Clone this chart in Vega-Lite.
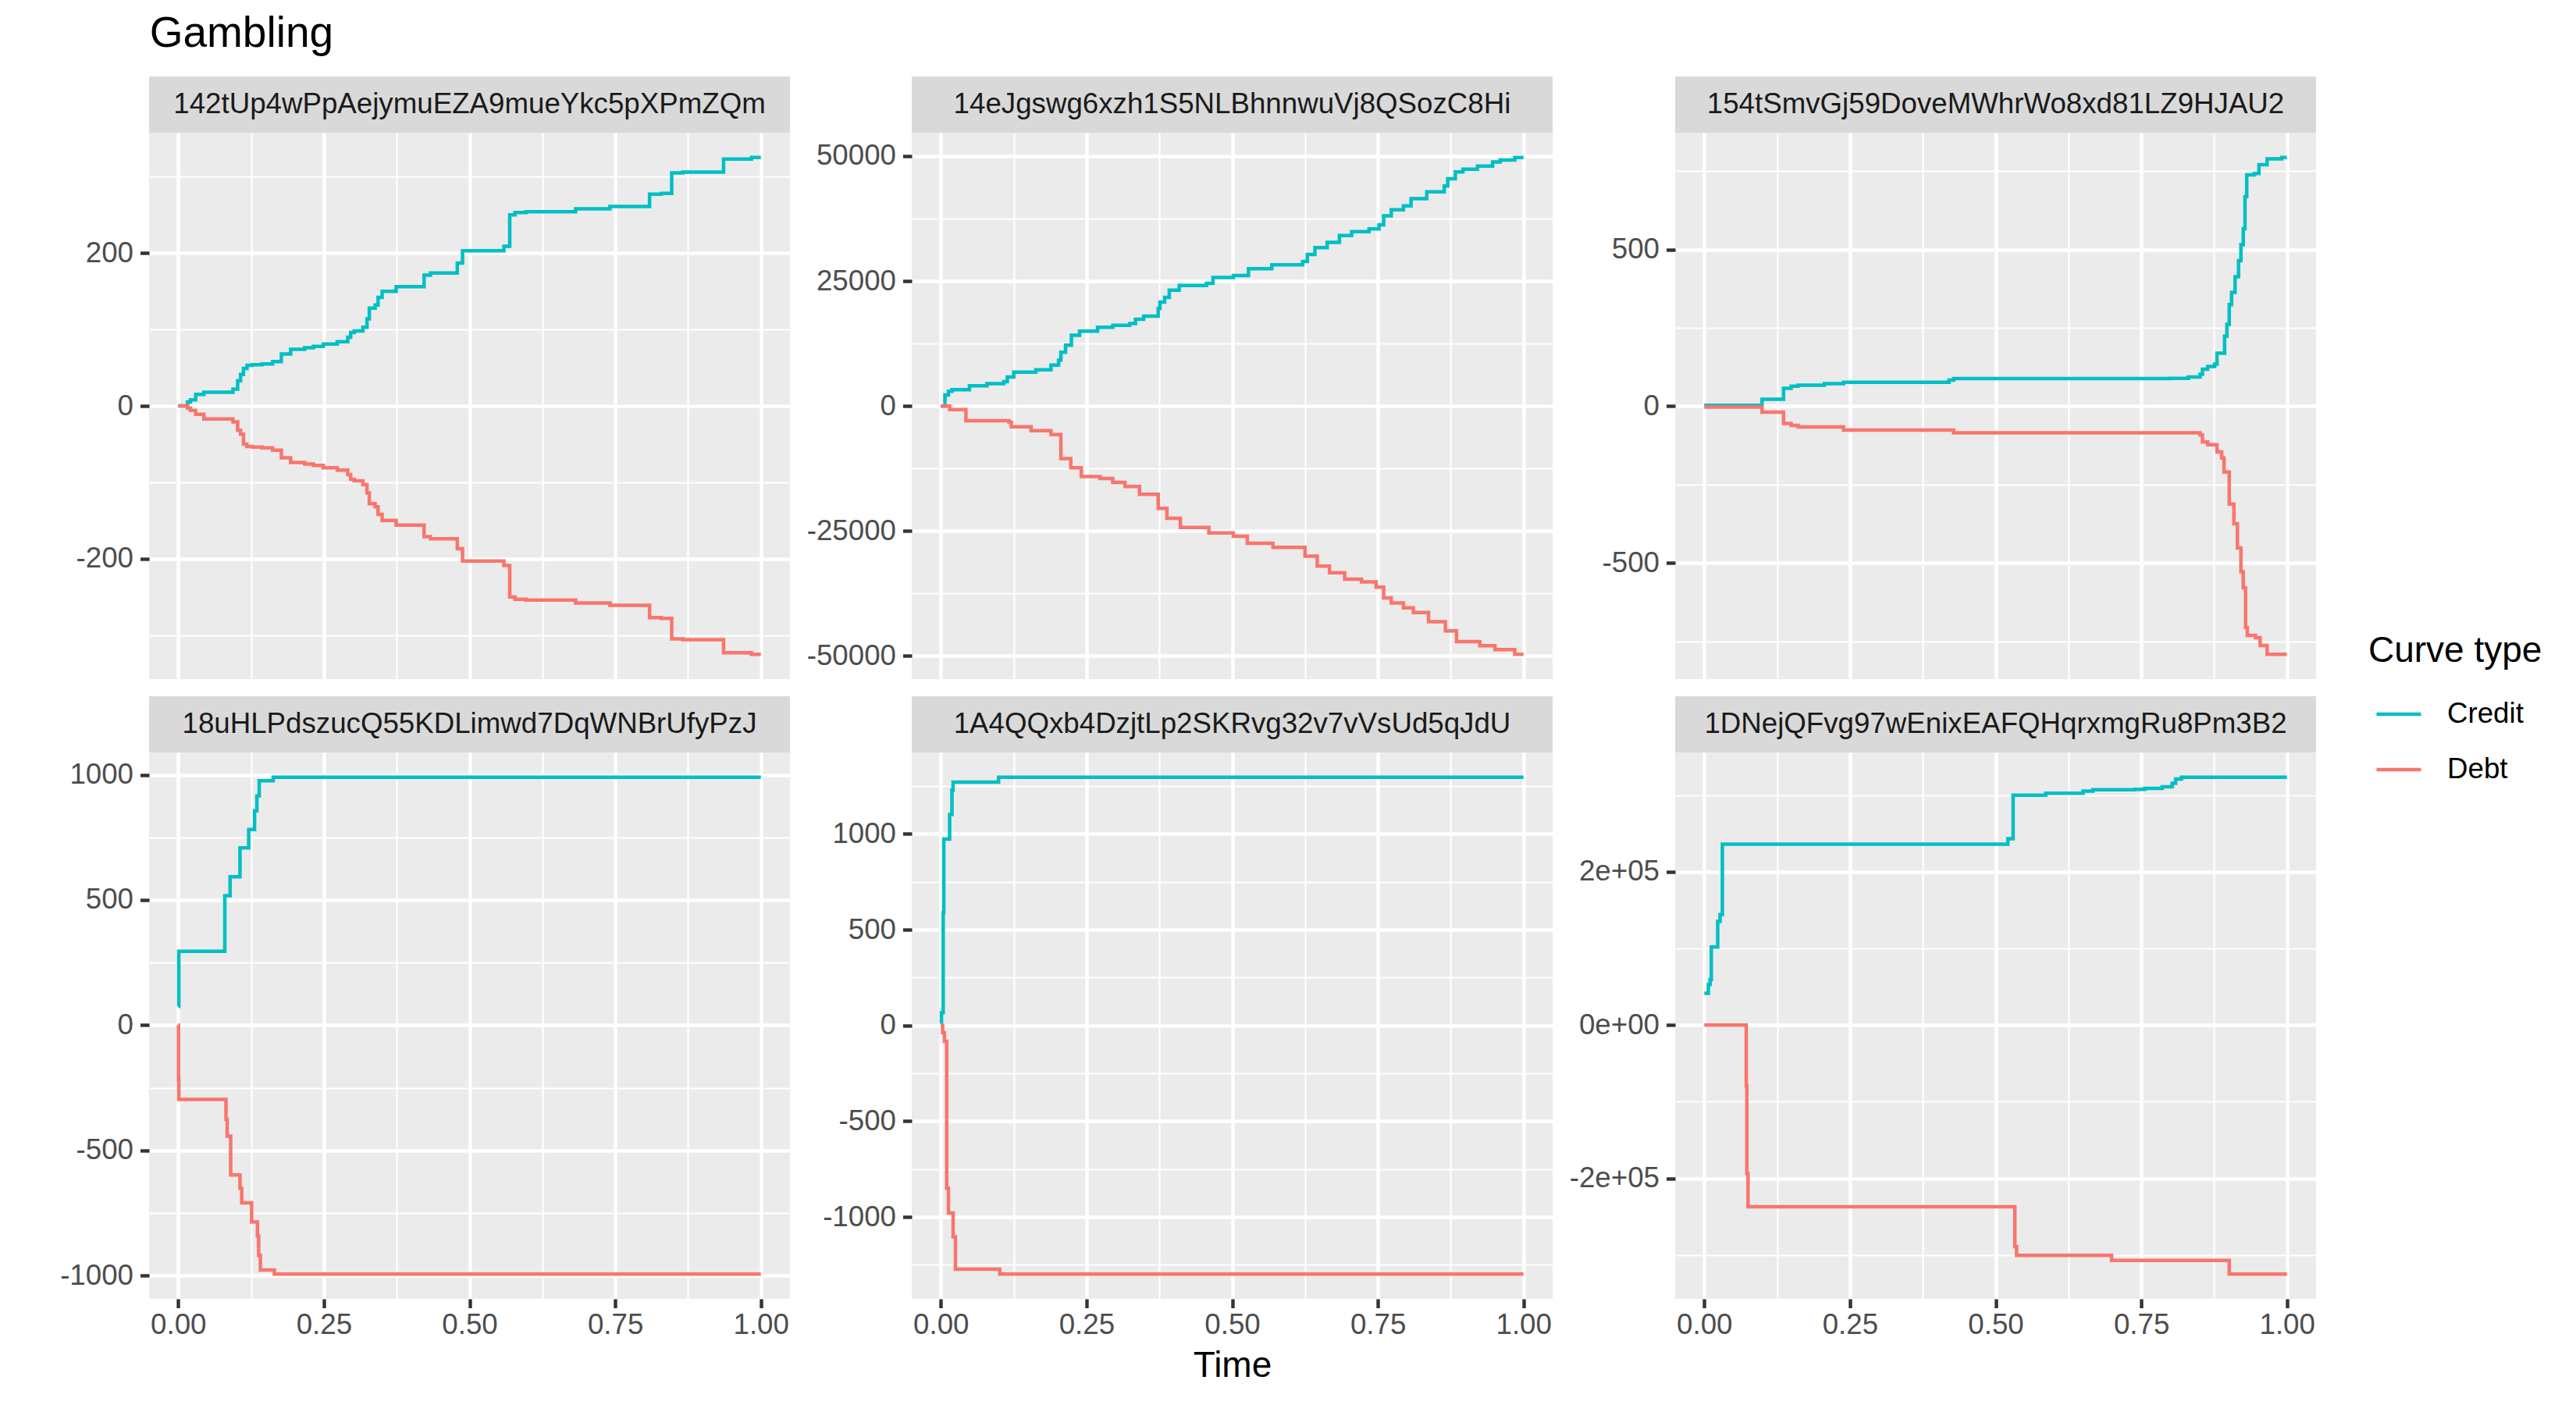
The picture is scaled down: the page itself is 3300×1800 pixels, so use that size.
{
  "$schema": "https://vega.github.io/schema/vega-lite/v6.json",
  "padding": {"left": 76, "top": 16, "right": 10, "bottom": 10},
  "title": {"text": "Gambling", "anchor": "start", "fontSize": 55, "fontWeight": "normal", "color": "#000000", "font": "Liberation Sans", "offset": 26, "dx": 115},
  "datasets": {
    "wallets": [
      {"wallet": "142tUp4wPpAejymuEZA9mueYkc5pXPmZQm"},
      {"wallet": "14eJgswg6xzh1S5NLBhnnwuVj8QSozC8Hi"},
      {"wallet": "154tSmvGj59DoveMWhrWo8xd81LZ9HJAU2"},
      {"wallet": "18uHLPdszucQ55KDLimwd7DqWNBrUfyPzJ"},
      {"wallet": "1A4QQxb4DzjtLp2SKRvg32v7vVsUd5qJdU"},
      {"wallet": "1DNejQFvg97wEnixEAFQHqrxmgRu8Pm3B2"}
    ],
    "flows_1": [
      {"time": 0, "value": 0, "curve": "Credit"},
      {"time": 0.016, "value": 5, "curve": "Credit"},
      {"time": 0.021, "value": 8, "curve": "Credit"},
      {"time": 0.03, "value": 15, "curve": "Credit"},
      {"time": 0.044, "value": 18, "curve": "Credit"},
      {"time": 0.094, "value": 22, "curve": "Credit"},
      {"time": 0.102, "value": 33, "curve": "Credit"},
      {"time": 0.107, "value": 41, "curve": "Credit"},
      {"time": 0.112, "value": 49, "curve": "Credit"},
      {"time": 0.118, "value": 53, "curve": "Credit"},
      {"time": 0.127, "value": 54, "curve": "Credit"},
      {"time": 0.144, "value": 55, "curve": "Credit"},
      {"time": 0.162, "value": 58, "curve": "Credit"},
      {"time": 0.177, "value": 68, "curve": "Credit"},
      {"time": 0.193, "value": 74, "curve": "Credit"},
      {"time": 0.217, "value": 76, "curve": "Credit"},
      {"time": 0.232, "value": 78, "curve": "Credit"},
      {"time": 0.249, "value": 81, "curve": "Credit"},
      {"time": 0.273, "value": 84, "curve": "Credit"},
      {"time": 0.291, "value": 90, "curve": "Credit"},
      {"time": 0.296, "value": 96, "curve": "Credit"},
      {"time": 0.302, "value": 98, "curve": "Credit"},
      {"time": 0.317, "value": 103, "curve": "Credit"},
      {"time": 0.324, "value": 114, "curve": "Credit"},
      {"time": 0.328, "value": 128, "curve": "Credit"},
      {"time": 0.338, "value": 132, "curve": "Credit"},
      {"time": 0.343, "value": 142, "curve": "Credit"},
      {"time": 0.35, "value": 150, "curve": "Credit"},
      {"time": 0.374, "value": 156, "curve": "Credit"},
      {"time": 0.422, "value": 171, "curve": "Credit"},
      {"time": 0.433, "value": 174, "curve": "Credit"},
      {"time": 0.479, "value": 187, "curve": "Credit"},
      {"time": 0.488, "value": 203, "curve": "Credit"},
      {"time": 0.559, "value": 209, "curve": "Credit"},
      {"time": 0.569, "value": 250, "curve": "Credit"},
      {"time": 0.578, "value": 253, "curve": "Credit"},
      {"time": 0.597, "value": 254, "curve": "Credit"},
      {"time": 0.682, "value": 258, "curve": "Credit"},
      {"time": 0.741, "value": 261, "curve": "Credit"},
      {"time": 0.809, "value": 277, "curve": "Credit"},
      {"time": 0.829, "value": 278, "curve": "Credit"},
      {"time": 0.847, "value": 305, "curve": "Credit"},
      {"time": 0.866, "value": 306, "curve": "Credit"},
      {"time": 0.936, "value": 323, "curve": "Credit"},
      {"time": 0.984, "value": 325, "curve": "Credit"},
      {"time": 1, "value": 325, "curve": "Credit"},
      {"time": 0, "value": 0, "curve": "Debt"},
      {"time": 0.016, "value": -3, "curve": "Debt"},
      {"time": 0.021, "value": -6, "curve": "Debt"},
      {"time": 0.03, "value": -11, "curve": "Debt"},
      {"time": 0.044, "value": -17, "curve": "Debt"},
      {"time": 0.094, "value": -21, "curve": "Debt"},
      {"time": 0.102, "value": -32, "curve": "Debt"},
      {"time": 0.107, "value": -37, "curve": "Debt"},
      {"time": 0.112, "value": -50, "curve": "Debt"},
      {"time": 0.118, "value": -53, "curve": "Debt"},
      {"time": 0.127, "value": -54, "curve": "Debt"},
      {"time": 0.144, "value": -55, "curve": "Debt"},
      {"time": 0.162, "value": -58, "curve": "Debt"},
      {"time": 0.177, "value": -68, "curve": "Debt"},
      {"time": 0.193, "value": -74, "curve": "Debt"},
      {"time": 0.217, "value": -76, "curve": "Debt"},
      {"time": 0.232, "value": -78, "curve": "Debt"},
      {"time": 0.249, "value": -81, "curve": "Debt"},
      {"time": 0.273, "value": -84, "curve": "Debt"},
      {"time": 0.291, "value": -90, "curve": "Debt"},
      {"time": 0.296, "value": -96, "curve": "Debt"},
      {"time": 0.302, "value": -98, "curve": "Debt"},
      {"time": 0.317, "value": -103, "curve": "Debt"},
      {"time": 0.324, "value": -114, "curve": "Debt"},
      {"time": 0.328, "value": -128, "curve": "Debt"},
      {"time": 0.338, "value": -132, "curve": "Debt"},
      {"time": 0.343, "value": -142, "curve": "Debt"},
      {"time": 0.35, "value": -150, "curve": "Debt"},
      {"time": 0.374, "value": -156, "curve": "Debt"},
      {"time": 0.422, "value": -171, "curve": "Debt"},
      {"time": 0.433, "value": -174, "curve": "Debt"},
      {"time": 0.479, "value": -187, "curve": "Debt"},
      {"time": 0.488, "value": -203, "curve": "Debt"},
      {"time": 0.559, "value": -209, "curve": "Debt"},
      {"time": 0.569, "value": -250, "curve": "Debt"},
      {"time": 0.578, "value": -253, "curve": "Debt"},
      {"time": 0.597, "value": -254, "curve": "Debt"},
      {"time": 0.682, "value": -258, "curve": "Debt"},
      {"time": 0.741, "value": -261, "curve": "Debt"},
      {"time": 0.809, "value": -277, "curve": "Debt"},
      {"time": 0.829, "value": -278, "curve": "Debt"},
      {"time": 0.847, "value": -305, "curve": "Debt"},
      {"time": 0.866, "value": -306, "curve": "Debt"},
      {"time": 0.936, "value": -323, "curve": "Debt"},
      {"time": 0.984, "value": -325, "curve": "Debt"},
      {"time": 1, "value": -325, "curve": "Debt"}
    ],
    "flows_2": [
      {"time": 0, "value": 0, "curve": "Credit"},
      {"time": 0.007, "value": 2230, "curve": "Credit"},
      {"time": 0.013, "value": 2950, "curve": "Credit"},
      {"time": 0.019, "value": 3260, "curve": "Credit"},
      {"time": 0.049, "value": 4060, "curve": "Credit"},
      {"time": 0.079, "value": 4460, "curve": "Credit"},
      {"time": 0.108, "value": 4860, "curve": "Credit"},
      {"time": 0.114, "value": 5810, "curve": "Credit"},
      {"time": 0.125, "value": 6770, "curve": "Credit"},
      {"time": 0.163, "value": 7250, "curve": "Credit"},
      {"time": 0.189, "value": 8200, "curve": "Credit"},
      {"time": 0.202, "value": 9160, "curve": "Credit"},
      {"time": 0.206, "value": 10750, "curve": "Credit"},
      {"time": 0.214, "value": 12180, "curve": "Credit"},
      {"time": 0.224, "value": 14170, "curve": "Credit"},
      {"time": 0.238, "value": 14970, "curve": "Credit"},
      {"time": 0.269, "value": 15760, "curve": "Credit"},
      {"time": 0.295, "value": 16160, "curve": "Credit"},
      {"time": 0.324, "value": 16480, "curve": "Credit"},
      {"time": 0.334, "value": 17360, "curve": "Credit"},
      {"time": 0.348, "value": 17990, "curve": "Credit"},
      {"time": 0.373, "value": 19510, "curve": "Credit"},
      {"time": 0.376, "value": 20780, "curve": "Credit"},
      {"time": 0.384, "value": 21740, "curve": "Credit"},
      {"time": 0.392, "value": 23170, "curve": "Credit"},
      {"time": 0.409, "value": 24120, "curve": "Credit"},
      {"time": 0.456, "value": 24520, "curve": "Credit"},
      {"time": 0.467, "value": 25720, "curve": "Credit"},
      {"time": 0.502, "value": 26110, "curve": "Credit"},
      {"time": 0.528, "value": 27470, "curve": "Credit"},
      {"time": 0.568, "value": 28260, "curve": "Credit"},
      {"time": 0.621, "value": 28900, "curve": "Credit"},
      {"time": 0.629, "value": 30330, "curve": "Credit"},
      {"time": 0.642, "value": 31690, "curve": "Credit"},
      {"time": 0.663, "value": 32720, "curve": "Credit"},
      {"time": 0.684, "value": 34080, "curve": "Credit"},
      {"time": 0.705, "value": 34870, "curve": "Credit"},
      {"time": 0.735, "value": 35430, "curve": "Credit"},
      {"time": 0.752, "value": 36230, "curve": "Credit"},
      {"time": 0.76, "value": 38060, "curve": "Credit"},
      {"time": 0.773, "value": 39250, "curve": "Credit"},
      {"time": 0.794, "value": 40050, "curve": "Credit"},
      {"time": 0.807, "value": 41480, "curve": "Credit"},
      {"time": 0.834, "value": 42830, "curve": "Credit"},
      {"time": 0.864, "value": 44030, "curve": "Credit"},
      {"time": 0.87, "value": 45460, "curve": "Credit"},
      {"time": 0.883, "value": 46820, "curve": "Credit"},
      {"time": 0.896, "value": 47370, "curve": "Credit"},
      {"time": 0.921, "value": 48010, "curve": "Credit"},
      {"time": 0.947, "value": 48800, "curve": "Credit"},
      {"time": 0.96, "value": 49200, "curve": "Credit"},
      {"time": 0.985, "value": 49700, "curve": "Credit"},
      {"time": 1, "value": 49700, "curve": "Credit"},
      {"time": 0, "value": 0, "curve": "Debt"},
      {"time": 0.015, "value": -720, "curve": "Debt"},
      {"time": 0.043, "value": -2950, "curve": "Debt"},
      {"time": 0.117, "value": -3260, "curve": "Debt"},
      {"time": 0.121, "value": -4140, "curve": "Debt"},
      {"time": 0.155, "value": -4940, "curve": "Debt"},
      {"time": 0.189, "value": -5730, "curve": "Debt"},
      {"time": 0.206, "value": -10500, "curve": "Debt"},
      {"time": 0.223, "value": -12340, "curve": "Debt"},
      {"time": 0.241, "value": -14090, "curve": "Debt"},
      {"time": 0.273, "value": -14490, "curve": "Debt"},
      {"time": 0.295, "value": -15290, "curve": "Debt"},
      {"time": 0.316, "value": -16080, "curve": "Debt"},
      {"time": 0.341, "value": -17670, "curve": "Debt"},
      {"time": 0.373, "value": -20460, "curve": "Debt"},
      {"time": 0.388, "value": -22450, "curve": "Debt"},
      {"time": 0.411, "value": -24280, "curve": "Debt"},
      {"time": 0.46, "value": -25400, "curve": "Debt"},
      {"time": 0.502, "value": -26040, "curve": "Debt"},
      {"time": 0.526, "value": -27470, "curve": "Debt"},
      {"time": 0.57, "value": -28260, "curve": "Debt"},
      {"time": 0.625, "value": -30010, "curve": "Debt"},
      {"time": 0.646, "value": -32000, "curve": "Debt"},
      {"time": 0.667, "value": -33360, "curve": "Debt"},
      {"time": 0.693, "value": -34630, "curve": "Debt"},
      {"time": 0.722, "value": -35190, "curve": "Debt"},
      {"time": 0.747, "value": -36230, "curve": "Debt"},
      {"time": 0.76, "value": -38380, "curve": "Debt"},
      {"time": 0.773, "value": -39410, "curve": "Debt"},
      {"time": 0.794, "value": -40370, "curve": "Debt"},
      {"time": 0.811, "value": -41320, "curve": "Debt"},
      {"time": 0.837, "value": -43150, "curve": "Debt"},
      {"time": 0.866, "value": -44980, "curve": "Debt"},
      {"time": 0.885, "value": -47130, "curve": "Debt"},
      {"time": 0.925, "value": -47930, "curve": "Debt"},
      {"time": 0.951, "value": -48730, "curve": "Debt"},
      {"time": 0.985, "value": -49650, "curve": "Debt"},
      {"time": 1, "value": -49650, "curve": "Debt"}
    ],
    "flows_3": [
      {"time": 0, "value": 3, "curve": "Credit"},
      {"time": 0.099, "value": 22, "curve": "Credit"},
      {"time": 0.136, "value": 57, "curve": "Credit"},
      {"time": 0.149, "value": 64, "curve": "Credit"},
      {"time": 0.161, "value": 67, "curve": "Credit"},
      {"time": 0.206, "value": 72, "curve": "Credit"},
      {"time": 0.239, "value": 76, "curve": "Credit"},
      {"time": 0.42, "value": 83, "curve": "Credit"},
      {"time": 0.428, "value": 88, "curve": "Credit"},
      {"time": 0.798, "value": 89, "curve": "Credit"},
      {"time": 0.831, "value": 93, "curve": "Credit"},
      {"time": 0.851, "value": 102, "curve": "Credit"},
      {"time": 0.855, "value": 118, "curve": "Credit"},
      {"time": 0.864, "value": 127, "curve": "Credit"},
      {"time": 0.876, "value": 134, "curve": "Credit"},
      {"time": 0.88, "value": 169, "curve": "Credit"},
      {"time": 0.893, "value": 223, "curve": "Credit"},
      {"time": 0.897, "value": 261, "curve": "Credit"},
      {"time": 0.901, "value": 324, "curve": "Credit"},
      {"time": 0.905, "value": 363, "curve": "Credit"},
      {"time": 0.911, "value": 413, "curve": "Credit"},
      {"time": 0.917, "value": 464, "curve": "Credit"},
      {"time": 0.921, "value": 515, "curve": "Credit"},
      {"time": 0.925, "value": 566, "curve": "Credit"},
      {"time": 0.928, "value": 668, "curve": "Credit"},
      {"time": 0.931, "value": 738, "curve": "Credit"},
      {"time": 0.944, "value": 742, "curve": "Credit"},
      {"time": 0.952, "value": 770, "curve": "Credit"},
      {"time": 0.966, "value": 789, "curve": "Credit"},
      {"time": 0.991, "value": 793, "curve": "Credit"},
      {"time": 1, "value": 793, "curve": "Credit"},
      {"time": 0, "value": -3, "curve": "Debt"},
      {"time": 0.099, "value": -19, "curve": "Debt"},
      {"time": 0.136, "value": -55, "curve": "Debt"},
      {"time": 0.149, "value": -61, "curve": "Debt"},
      {"time": 0.161, "value": -66, "curve": "Debt"},
      {"time": 0.239, "value": -76, "curve": "Debt"},
      {"time": 0.428, "value": -85, "curve": "Debt"},
      {"time": 0.851, "value": -92, "curve": "Debt"},
      {"time": 0.855, "value": -114, "curve": "Debt"},
      {"time": 0.864, "value": -123, "curve": "Debt"},
      {"time": 0.88, "value": -146, "curve": "Debt"},
      {"time": 0.888, "value": -165, "curve": "Debt"},
      {"time": 0.892, "value": -210, "curve": "Debt"},
      {"time": 0.901, "value": -312, "curve": "Debt"},
      {"time": 0.909, "value": -375, "curve": "Debt"},
      {"time": 0.915, "value": -452, "curve": "Debt"},
      {"time": 0.921, "value": -528, "curve": "Debt"},
      {"time": 0.925, "value": -579, "curve": "Debt"},
      {"time": 0.929, "value": -706, "curve": "Debt"},
      {"time": 0.932, "value": -731, "curve": "Debt"},
      {"time": 0.946, "value": -738, "curve": "Debt"},
      {"time": 0.954, "value": -763, "curve": "Debt"},
      {"time": 0.966, "value": -791, "curve": "Debt"},
      {"time": 1, "value": -791, "curve": "Debt"}
    ],
    "flows_4": [
      {"time": 0, "value": 75, "curve": "Credit"},
      {"time": 0.001, "value": 295, "curve": "Credit"},
      {"time": 0.08, "value": 517, "curve": "Credit"},
      {"time": 0.089, "value": 593, "curve": "Credit"},
      {"time": 0.106, "value": 708, "curve": "Credit"},
      {"time": 0.121, "value": 781, "curve": "Credit"},
      {"time": 0.131, "value": 856, "curve": "Credit"},
      {"time": 0.135, "value": 915, "curve": "Credit"},
      {"time": 0.139, "value": 976, "curve": "Credit"},
      {"time": 0.163, "value": 990, "curve": "Credit"},
      {"time": 1, "value": 990, "curve": "Credit"},
      {"time": 0, "value": 0, "curve": "Debt"},
      {"time": 0.0005, "value": -220, "curve": "Debt"},
      {"time": 0.001, "value": -297, "curve": "Debt"},
      {"time": 0.082, "value": -376, "curve": "Debt"},
      {"time": 0.084, "value": -443, "curve": "Debt"},
      {"time": 0.09, "value": -598, "curve": "Debt"},
      {"time": 0.106, "value": -651, "curve": "Debt"},
      {"time": 0.109, "value": -710, "curve": "Debt"},
      {"time": 0.126, "value": -786, "curve": "Debt"},
      {"time": 0.136, "value": -842, "curve": "Debt"},
      {"time": 0.138, "value": -919, "curve": "Debt"},
      {"time": 0.141, "value": -978, "curve": "Debt"},
      {"time": 0.165, "value": -994, "curve": "Debt"},
      {"time": 1, "value": -994, "curve": "Debt"}
    ],
    "flows_5": [
      {"time": 0, "value": 10, "curve": "Credit"},
      {"time": 0.001, "value": 67, "curve": "Credit"},
      {"time": 0.004, "value": 590, "curve": "Credit"},
      {"time": 0.005, "value": 973, "curve": "Credit"},
      {"time": 0.015, "value": 1102, "curve": "Credit"},
      {"time": 0.019, "value": 1229, "curve": "Credit"},
      {"time": 0.021, "value": 1271, "curve": "Credit"},
      {"time": 0.099, "value": 1296, "curve": "Credit"},
      {"time": 1, "value": 1296, "curve": "Credit"},
      {"time": 0, "value": 0, "curve": "Debt"},
      {"time": 0.003, "value": -38, "curve": "Debt"},
      {"time": 0.006, "value": -83, "curve": "Debt"},
      {"time": 0.01, "value": -850, "curve": "Debt"},
      {"time": 0.013, "value": -979, "curve": "Debt"},
      {"time": 0.021, "value": -1104, "curve": "Debt"},
      {"time": 0.025, "value": -1273, "curve": "Debt"},
      {"time": 0.101, "value": -1298, "curve": "Debt"},
      {"time": 1, "value": -1298, "curve": "Debt"}
    ],
    "flows_6": [
      {"time": 0, "value": 41560, "curve": "Credit"},
      {"time": 0.007, "value": 53000, "curve": "Credit"},
      {"time": 0.01, "value": 59200, "curve": "Credit"},
      {"time": 0.012, "value": 101800, "curve": "Credit"},
      {"time": 0.023, "value": 135000, "curve": "Credit"},
      {"time": 0.027, "value": 144000, "curve": "Credit"},
      {"time": 0.031, "value": 235900, "curve": "Credit"},
      {"time": 0.521, "value": 243100, "curve": "Credit"},
      {"time": 0.53, "value": 299700, "curve": "Credit"},
      {"time": 0.586, "value": 302300, "curve": "Credit"},
      {"time": 0.65, "value": 305000, "curve": "Credit"},
      {"time": 0.667, "value": 307000, "curve": "Credit"},
      {"time": 0.739, "value": 307500, "curve": "Credit"},
      {"time": 0.756, "value": 308600, "curve": "Credit"},
      {"time": 0.786, "value": 310700, "curve": "Credit"},
      {"time": 0.803, "value": 315300, "curve": "Credit"},
      {"time": 0.809, "value": 321000, "curve": "Credit"},
      {"time": 0.819, "value": 323100, "curve": "Credit"},
      {"time": 1, "value": 323100, "curve": "Credit"},
      {"time": 0, "value": 0, "curve": "Debt"},
      {"time": 0.072, "value": -79500, "curve": "Debt"},
      {"time": 0.073, "value": -193800, "curve": "Debt"},
      {"time": 0.075, "value": -236900, "curve": "Debt"},
      {"time": 0.533, "value": -288800, "curve": "Debt"},
      {"time": 0.536, "value": -300300, "curve": "Debt"},
      {"time": 0.699, "value": -307000, "curve": "Debt"},
      {"time": 0.901, "value": -324700, "curve": "Debt"},
      {"time": 1, "value": -324700, "curve": "Debt"}
    ]
  },
  "columns": 3,
  "spacing": {"row": 22, "column": 21},
  "concat": [
    {
      "spacing": 0,
      "vconcat": [
        {
          "width": 821, "height": 72,
          "view": {"fill": "#D9D9D9", "stroke": null},
          "data": {"name": "wallets"},
          "transform": [{"filter": {"field": "wallet", "equal": "142tUp4wPpAejymuEZA9mueYkc5pXPmZQm"}}],
          "mark": {"type": "text", "fontSize": 36.7, "color": "#1A1A1A"},
          "encoding": {"text": {"field": "wallet", "type": "nominal"}}
        },
        {
          "width": 821, "height": 700,
          "data": {"name": "flows_1"},
          "mark": {"type": "line", "interpolate": "step-after", "strokeWidth": 4.5},
          "encoding": {
            "x": {"field": "time", "type": "quantitative", "scale": {"domain": [-0.05, 1.05], "nice": false, "zero": false},
              "axis": {"values": [0, 0.125, 0.25, 0.375, 0.5, 0.625, 0.75, 0.875, 1], "labels": false, "ticks": false, "title": null,
                "gridWidth": {"condition": {"test": "(datum.value*4)%1===0", "value": 4.4}, "value": 2.2}}},
            "y": {"field": "value", "type": "quantitative", "scale": {"domain": [-357.5, 357.5], "nice": false, "zero": false},
              "axis": {"values": [-300, -200, -100, 0, 100, 200, 300], "title": null,
                "gridWidth": {"condition": {"test": "datum.value%200===0", "value": 4.4}, "value": 2.2},
                "tickOpacity": {"condition": {"test": "datum.value%200===0", "value": 1}, "value": 0},
                "labelExpr": "datum.value%200===0 ? replace(format(datum.value,'d'),'\u2212','-') : ''"}},
            "color": {"field": "curve", "type": "nominal", "title": "Curve type",
              "scale": {"domain": ["Credit", "Debt"], "range": ["#00BFC4", "#F8766D"]},
              "legend": {"orient": "none", "legendX": 2843, "legendY": 714}}
          }
        }
      ]
    },
    {
      "spacing": 0,
      "vconcat": [
        {
          "width": 821, "height": 72,
          "view": {"fill": "#D9D9D9", "stroke": null},
          "data": {"name": "wallets"},
          "transform": [{"filter": {"field": "wallet", "equal": "14eJgswg6xzh1S5NLBhnnwuVj8QSozC8Hi"}}],
          "mark": {"type": "text", "fontSize": 36.7, "color": "#1A1A1A"},
          "encoding": {"text": {"field": "wallet", "type": "nominal"}}
        },
        {
          "width": 821, "height": 700,
          "data": {"name": "flows_2"},
          "mark": {"type": "line", "interpolate": "step-after", "strokeWidth": 4.5},
          "encoding": {
            "x": {"field": "time", "type": "quantitative", "scale": {"domain": [-0.05, 1.05], "nice": false, "zero": false},
              "axis": {"values": [0, 0.125, 0.25, 0.375, 0.5, 0.625, 0.75, 0.875, 1], "labels": false, "ticks": false, "title": null,
                "gridWidth": {"condition": {"test": "(datum.value*4)%1===0", "value": 4.4}, "value": 2.2}}},
            "y": {"field": "value", "type": "quantitative", "scale": {"domain": [-54618, 54668], "nice": false, "zero": false},
              "axis": {"values": [-50000, -37500, -25000, -12500, 0, 12500, 25000, 37500, 50000], "title": null,
                "gridWidth": {"condition": {"test": "datum.value%25000===0", "value": 4.4}, "value": 2.2},
                "tickOpacity": {"condition": {"test": "datum.value%25000===0", "value": 1}, "value": 0},
                "labelExpr": "datum.value%25000===0 ? replace(format(datum.value,'d'),'\u2212','-') : ''"}},
            "color": {"field": "curve", "type": "nominal", "title": "Curve type",
              "scale": {"domain": ["Credit", "Debt"], "range": ["#00BFC4", "#F8766D"]},
              "legend": {"orient": "none", "legendX": 2843, "legendY": 714}}
          }
        }
      ]
    },
    {
      "spacing": 0,
      "vconcat": [
        {
          "width": 821, "height": 72,
          "view": {"fill": "#D9D9D9", "stroke": null},
          "data": {"name": "wallets"},
          "transform": [{"filter": {"field": "wallet", "equal": "154tSmvGj59DoveMWhrWo8xd81LZ9HJAU2"}}],
          "mark": {"type": "text", "fontSize": 36.7, "color": "#1A1A1A"},
          "encoding": {"text": {"field": "wallet", "type": "nominal"}}
        },
        {
          "width": 821, "height": 700,
          "data": {"name": "flows_3"},
          "mark": {"type": "line", "interpolate": "step-after", "strokeWidth": 4.5},
          "encoding": {
            "x": {"field": "time", "type": "quantitative", "scale": {"domain": [-0.05, 1.05], "nice": false, "zero": false},
              "axis": {"values": [0, 0.125, 0.25, 0.375, 0.5, 0.625, 0.75, 0.875, 1], "labels": false, "ticks": false, "title": null,
                "gridWidth": {"condition": {"test": "(datum.value*4)%1===0", "value": 4.4}, "value": 2.2}}},
            "y": {"field": "value", "type": "quantitative", "scale": {"domain": [-870.2, 872.2], "nice": false, "zero": false},
              "axis": {"values": [-750, -500, -250, 0, 250, 500, 750], "title": null,
                "gridWidth": {"condition": {"test": "datum.value%500===0", "value": 4.4}, "value": 2.2},
                "tickOpacity": {"condition": {"test": "datum.value%500===0", "value": 1}, "value": 0},
                "labelExpr": "datum.value%500===0 ? replace(format(datum.value,'d'),'\u2212','-') : ''"}},
            "color": {"field": "curve", "type": "nominal", "title": "Curve type",
              "scale": {"domain": ["Credit", "Debt"], "range": ["#00BFC4", "#F8766D"]},
              "legend": {"orient": "none", "legendX": 2843, "legendY": 714}}
          }
        }
      ]
    },
    {
      "spacing": 0,
      "vconcat": [
        {
          "width": 821, "height": 72,
          "view": {"fill": "#D9D9D9", "stroke": null},
          "data": {"name": "wallets"},
          "transform": [{"filter": {"field": "wallet", "equal": "18uHLPdszucQ55KDLimwd7DqWNBrUfyPzJ"}}],
          "mark": {"type": "text", "fontSize": 36.7, "color": "#1A1A1A"},
          "encoding": {"text": {"field": "wallet", "type": "nominal"}}
        },
        {
          "width": 821, "height": 700,
          "data": {"name": "flows_4"},
          "mark": {"type": "line", "interpolate": "step-after", "strokeWidth": 4.5},
          "encoding": {
            "x": {"field": "time", "type": "quantitative", "scale": {"domain": [-0.05, 1.05], "nice": false, "zero": false},
              "axis": {"values": [0, 0.125, 0.25, 0.375, 0.5, 0.625, 0.75, 0.875, 1], "title": null,
                "gridWidth": {"condition": {"test": "(datum.value*4)%1===0", "value": 4.4}, "value": 2.2},
                "tickOpacity": {"condition": {"test": "(datum.value*4)%1===0", "value": 1}, "value": 0},
                "labelExpr": "(datum.value*4)%1===0 ? format(datum.value,'.2f') : ''"}},
            "y": {"field": "value", "type": "quantitative", "scale": {"domain": [-1093.2, 1089.2], "nice": false, "zero": false},
              "axis": {"values": [-1000, -750, -500, -250, 0, 250, 500, 750, 1000], "title": null,
                "gridWidth": {"condition": {"test": "datum.value%500===0", "value": 4.4}, "value": 2.2},
                "tickOpacity": {"condition": {"test": "datum.value%500===0", "value": 1}, "value": 0},
                "labelExpr": "datum.value%500===0 ? replace(format(datum.value,'d'),'\u2212','-') : ''"}},
            "color": {"field": "curve", "type": "nominal", "title": "Curve type",
              "scale": {"domain": ["Credit", "Debt"], "range": ["#00BFC4", "#F8766D"]},
              "legend": {"orient": "none", "legendX": 2843, "legendY": 714}}
          }
        }
      ]
    },
    {
      "spacing": 0,
      "vconcat": [
        {
          "width": 821, "height": 72,
          "view": {"fill": "#D9D9D9", "stroke": null},
          "data": {"name": "wallets"},
          "transform": [{"filter": {"field": "wallet", "equal": "1A4QQxb4DzjtLp2SKRvg32v7vVsUd5qJdU"}}],
          "mark": {"type": "text", "fontSize": 36.7, "color": "#1A1A1A"},
          "encoding": {"text": {"field": "wallet", "type": "nominal"}}
        },
        {
          "width": 821, "height": 700,
          "data": {"name": "flows_5"},
          "mark": {"type": "line", "interpolate": "step-after", "strokeWidth": 4.5},
          "encoding": {
            "x": {"field": "time", "type": "quantitative", "scale": {"domain": [-0.05, 1.05], "nice": false, "zero": false},
              "axis": {"values": [0, 0.125, 0.25, 0.375, 0.5, 0.625, 0.75, 0.875, 1], "title": "Time",
                "gridWidth": {"condition": {"test": "(datum.value*4)%1===0", "value": 4.4}, "value": 2.2},
                "tickOpacity": {"condition": {"test": "(datum.value*4)%1===0", "value": 1}, "value": 0},
                "labelExpr": "(datum.value*4)%1===0 ? format(datum.value,'.2f') : ''"}},
            "y": {"field": "value", "type": "quantitative", "scale": {"domain": [-1427.7, 1425.7], "nice": false, "zero": false},
              "axis": {"values": [-1250, -1000, -750, -500, -250, 0, 250, 500, 750, 1000, 1250], "title": null,
                "gridWidth": {"condition": {"test": "datum.value%500===0", "value": 4.4}, "value": 2.2},
                "tickOpacity": {"condition": {"test": "datum.value%500===0", "value": 1}, "value": 0},
                "labelExpr": "datum.value%500===0 ? replace(format(datum.value,'d'),'\u2212','-') : ''"}},
            "color": {"field": "curve", "type": "nominal", "title": "Curve type",
              "scale": {"domain": ["Credit", "Debt"], "range": ["#00BFC4", "#F8766D"]},
              "legend": {"orient": "none", "legendX": 2843, "legendY": 714}}
          }
        }
      ]
    },
    {
      "spacing": 0,
      "vconcat": [
        {
          "width": 821, "height": 72,
          "view": {"fill": "#D9D9D9", "stroke": null},
          "data": {"name": "wallets"},
          "transform": [{"filter": {"field": "wallet", "equal": "1DNejQFvg97wEnixEAFQHqrxmgRu8Pm3B2"}}],
          "mark": {"type": "text", "fontSize": 36.7, "color": "#1A1A1A"},
          "encoding": {"text": {"field": "wallet", "type": "nominal"}}
        },
        {
          "width": 821, "height": 700,
          "data": {"name": "flows_6"},
          "mark": {"type": "line", "interpolate": "step-after", "strokeWidth": 4.5},
          "encoding": {
            "x": {"field": "time", "type": "quantitative", "scale": {"domain": [-0.05, 1.05], "nice": false, "zero": false},
              "axis": {"values": [0, 0.125, 0.25, 0.375, 0.5, 0.625, 0.75, 0.875, 1], "title": null,
                "gridWidth": {"condition": {"test": "(datum.value*4)%1===0", "value": 4.4}, "value": 2.2},
                "tickOpacity": {"condition": {"test": "(datum.value*4)%1===0", "value": 1}, "value": 0},
                "labelExpr": "(datum.value*4)%1===0 ? format(datum.value,'.2f') : ''"}},
            "y": {"field": "value", "type": "quantitative", "scale": {"domain": [-357090, 355490], "nice": false, "zero": false},
              "axis": {"values": [-300000, -200000, -100000, 0, 100000, 200000, 300000], "title": null,
                "gridWidth": {"condition": {"test": "datum.value%200000===0", "value": 4.4}, "value": 2.2},
                "tickOpacity": {"condition": {"test": "datum.value%200000===0", "value": 1}, "value": 0},
                "labelExpr": "datum.value%200000===0 ? replace(replace(format(datum.value,'.0e'),'e+','e+0'),'\u2212','-') : ''"}},
            "color": {"field": "curve", "type": "nominal", "title": "Curve type",
              "scale": {"domain": ["Credit", "Debt"], "range": ["#00BFC4", "#F8766D"]},
              "legend": {"orient": "none", "legendX": 2843, "legendY": 714}}
          }
        }
      ]
    }
  ],
  "resolve": {"scale": {"color": "shared"}, "legend": {"color": "shared"}},
  "config": {
    "font": "Liberation Sans",
    "view": {"fill": "#EBEBEB", "stroke": null},
    "axis": {
      "domain": false,
      "gridColor": "#FFFFFF",
      "gridOpacity": 1,
      "tickColor": "#333333",
      "tickWidth": 4.4,
      "tickSize": 11.5,
      "labelFont": "Liberation Sans",
      "labelFontSize": 36.7,
      "labelColor": "#4D4D4D",
      "labelPadding": 9,
      "labelOverlap": false,
      "labelFlush": false,
      "titleFont": "Liberation Sans",
      "titleFontSize": 46,
      "titleFontWeight": "normal",
      "titleColor": "#000000",
      "titlePadding": 11
    },
    "axisX": {"labelPadding": 4},
    "legend": {
      "titleFont": "Liberation Sans",
      "titleFontSize": 46,
      "titleFontWeight": "normal",
      "titleColor": "#000000",
      "titlePadding": 26,
      "titleLimit": 1000,
      "labelFont": "Liberation Sans",
      "labelFontSize": 36.7,
      "labelColor": "#000000",
      "labelLimit": 1000,
      "labelOffset": 31,
      "symbolType": "stroke",
      "symbolSize": 3249,
      "symbolStrokeWidth": 4.4,
      "symbolOffset": 8,
      "rowPadding": 21,
      "padding": 0
    }
  }
}
